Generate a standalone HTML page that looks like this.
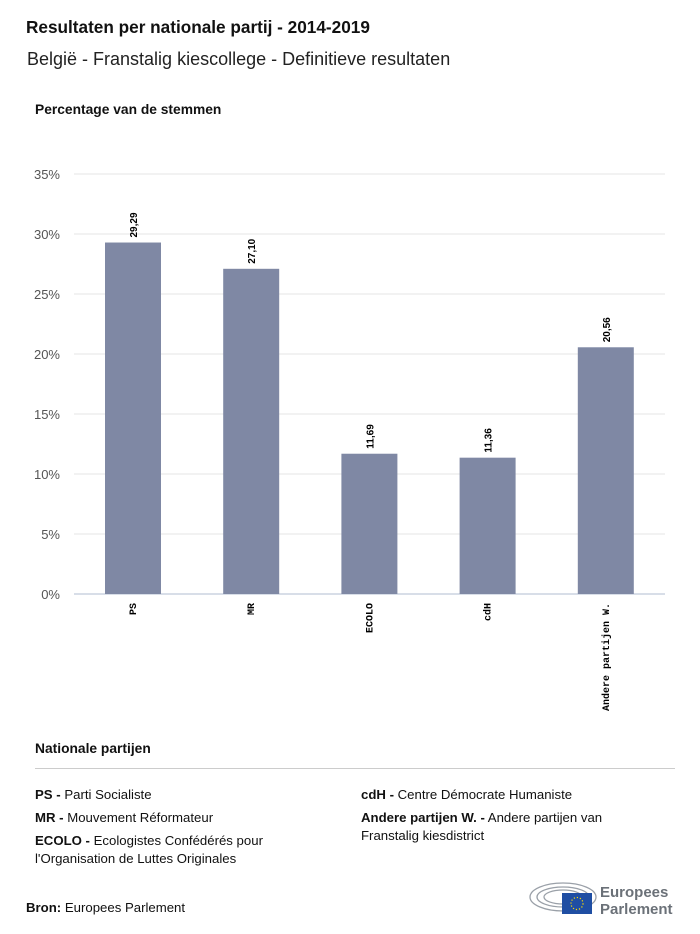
<!DOCTYPE html>
<html><head><meta charset="utf-8"><style>
body{margin:0;width:700px;height:934px;background:#fff;font-family:"Liberation Sans",sans-serif;color:#111;position:relative;overflow:hidden}
.a{position:absolute;white-space:nowrap}
.t{left:26px;top:17px;font-size:17.2px;font-weight:bold}
.s{left:27px;top:49px;font-size:18px;color:#222}
.yl{left:35px;top:102px;font-size:13.8px;font-weight:bold}
.leg{font-size:13.2px;line-height:18px}
.leg b{font-weight:bold}
</style></head><body>
<div class="a t">Resultaten per nationale partij - 2014-2019</div>
<div class="a s">België - Franstalig kiescollege - Definitieve resultaten</div>
<div class="a yl">Percentage van de stemmen</div>
<svg class="a" style="left:0;top:0" width="700" height="730">
<g id="grid"></g><g id="bars"></g><g id="labels"></g>
</svg>
<div class="a leg" style="left:35px;top:740px;font-weight:bold;font-size:13.8px">Nationale partijen</div>
<div class="a" style="left:35px;top:768px;width:640px;height:1px;background:#ccc"></div>
<div class="a leg" style="left:35px;top:786px"><b>PS -</b> Parti Socialiste</div>
<div class="a leg" style="left:35px;top:809px"><b>MR -</b> Mouvement Réformateur</div>
<div class="a leg" style="left:35px;top:832px;white-space:normal;width:280px"><b>ECOLO -</b> Ecologistes Confédérés pour l'Organisation de Luttes Originales</div>
<div class="a leg" style="left:361px;top:786px"><b>cdH -</b> Centre Démocrate Humaniste</div>
<div class="a leg" style="left:361px;top:809px;white-space:normal;width:280px"><b>Andere partijen W. -</b> Andere partijen van Franstalig kiesdistrict</div>
<div class="a" style="left:26px;top:900px;font-size:13.2px"><b>Bron:</b> Europees Parlement</div>
<svg class="a" style="left:528px;top:878px" width="150" height="40">
<g fill="none" stroke="#9aa0a8" stroke-width="1.3"><ellipse cx="35" cy="19" rx="33" ry="14"/><ellipse cx="35" cy="19" rx="26" ry="10"/><ellipse cx="35" cy="19" rx="19" ry="7"/></g>
<rect x="34" y="15" width="30" height="21" fill="#1f4ea3"/>
<circle cx="49" cy="25.5" r="6" fill="none" stroke="#ffdd00" stroke-width="1.2" stroke-dasharray="1.2 1.9"/>
<text x="72" y="19" font-size="15" font-weight="bold" fill="#6b7178" font-family="Liberation Sans">Europees</text>
<text x="72" y="36" font-size="15" font-weight="bold" fill="#6b7178" font-family="Liberation Sans">Parlement</text>
</svg>
<script>
const categories=["PS","MR","ECOLO","cdH","Andere partijen W."];
const values=[29.29,27.10,11.69,11.36,20.56];
const valueLabels=["29,29","27,10","11,69","11,36","20,56"];
const ticks=[0,5,10,15,20,25,30,35];
const ns="http://www.w3.org/2000/svg";
const y=v=>594-v*12;
const x=i=>133+i*118.2;
function mk(tag,attrs,parent,txt){const e=document.createElementNS(ns,tag);for(const k in attrs)e.setAttribute(k,attrs[k]);if(txt!=null)e.textContent=txt;document.getElementById(parent).appendChild(e);return e;}
ticks.forEach(t=>{
 const l=mk('line',{x1:74,x2:665,y1:y(t),y2:y(t),stroke:t===0?'#ccd3e0':'#e6e6e6','stroke-width':t===0?1.5:1},'grid');
 
 
 const tx=mk('text',{x:60,y:y(t)+5,'text-anchor':'end','font-size':13,fill:'#555','font-family':'Liberation Sans'},'grid',t+'%');
 
 
});
values.forEach((v,i)=>{
 const r=mk('rect',{x:x(i)-28,y:y(v),width:56,height:y(0)-y(v),fill:'#7f88a4'},'bars');
 
 
 const vl=mk('text',{transform:`translate(${x(i)+4},${y(v)-5}) rotate(-90)`,'font-size':10,'font-weight':'bold','font-family':'Liberation Sans'},'labels',valueLabels[i]);
 
 
 const cl=mk('text',{transform:`translate(${x(i)+3},603) rotate(-90)`,'text-anchor':'end','font-size':10,'font-weight':'bold','font-family':'Liberation Mono'},'labels',categories[i]);
 
 
});
</script>
</body></html>
